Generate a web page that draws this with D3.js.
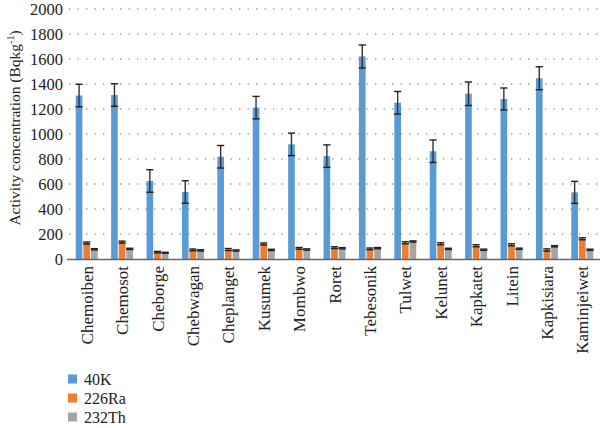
<!DOCTYPE html>
<meta charset="utf-8">
<style>
  body { margin: 0; background: #fff; }
  text { font-family: "Liberation Serif", serif; fill: #222; }
</style>
<svg width="600" height="428"></svg>
<script src="https://d3js.org/d3.v7.min.js"></script>
<script>
var sites = ["Chemoiben", "Chemosot", "Cheborge", "Chebwagan", "Cheplanget", "Kusumek", "Mombwo", "Roret",
  "Tebesonik", "Tulwet", "Kelunet", "Kapkatet", "Litein", "Kapkisiara", "Kaminjeiwet"];
var seriesNames = ["40K", "226Ra", "232Th"];
var k40 = [1308, 1312, 624, 536, 818, 1211, 917, 823, 1620, 1250, 862, 1322, 1280, 1446, 533];
var ra226 = [128, 135, 55, 73, 76, 120, 85, 91, 81, 130, 122, 106, 114, 72, 162];
var th232 = [78, 81, 50, 69, 68, 73, 76, 86, 87, 140, 81, 74, 82, 102, 74];
var k40Err = [90, 90, 90, 90, 90, 90, 90, 90, 92, 90, 90, 94, 88, 92, 88];
var ra226Err = [8, 8, 6, 7, 8, 8, 7, 7, 7, 8, 8, 8, 8, 9, 8];
var th232Err = [5, 5, 4, 5, 5, 5, 5, 5, 5, 5, 5, 5, 5, 5, 5];
var yTicks = [0, 200, 400, 600, 800, 1000, 1200, 1400, 1600, 1800, 2000];
var colors = ["#5b9bd5", "#ed7d31", "#a5a5a5"];

var values = [k40, ra226, th232];
var errs = [k40Err, ra226Err, th232Err];

var svg = d3.select("svg");

var x0 = d3.scaleBand().domain(sites).range([69, 600]);
var step = x0.bandwidth();
var x1 = d3.scaleBand().domain(seriesNames)
    .range([step * 0.19, step * 0.81]).paddingInner(0.13);
var y = d3.scaleLinear().domain([0, 2000]).range([259, 9]);

// dotted gridlines
svg.append("g").selectAll("line")
  .data(yTicks.slice(1))
  .join("line")
    .attr("x1", 69).attr("x2", 600)
    .attr("y1", d => y(d)).attr("y2", d => y(d))
    .attr("stroke", "#999")
    .attr("stroke-width", 1.3)
    .attr("stroke-dasharray", "1.3,7.2");

// y tick labels
svg.append("g").selectAll("text")
  .data(yTicks)
  .join("text")
    .attr("x", 63)
    .attr("y", d => y(d))
    .attr("dy", "0.35em")
    .attr("text-anchor", "end")
    .attr("font-size", 16.5)
    .text(d => d);

// y axis title
svg.append("text")
  .attr("transform", "translate(20,128) rotate(-90)")
  .attr("text-anchor", "middle")
  .attr("font-size", 15.5)
  .html("Activity concentration (Bqkg<tspan dy='-6' font-size='10'>-1</tspan><tspan dy='6'>)</tspan>");

// bars
var groups = svg.append("g").selectAll("g")
  .data(sites)
  .join("g")
    .attr("transform", d => "translate(" + x0(d) + ",0)");

groups.each(function(site, i) {
  var g = d3.select(this);
  seriesNames.forEach(function(s, j) {
    var v = values[j][i], e = errs[j][i];
    var bx = x1(s), bw = x1.bandwidth();
    g.append("rect")
      .attr("x", bx).attr("width", bw)
      .attr("y", y(v)).attr("height", y(0) - y(v))
      .attr("fill", colors[j]);
    var cx = bx + bw / 2;
    g.append("line")
      .attr("x1", cx).attr("x2", cx)
      .attr("y1", y(v + e)).attr("y2", y(v - e))
      .attr("stroke", "#333").attr("stroke-width", 1.4);
    [v + e, v - e].forEach(function(t) {
      g.append("line")
        .attr("x1", cx - 3.6).attr("x2", cx + 3.6)
        .attr("y1", y(t)).attr("y2", y(t))
        .attr("stroke", "#222").attr("stroke-width", 1.4);
    });
  });
});

// x axis line
svg.append("line")
  .attr("x1", 67).attr("x2", 600)
  .attr("y1", y(0) + 0.5).attr("y2", y(0) + 0.5)
  .attr("stroke", "#666").attr("stroke-width", 1.5);

// category labels
svg.append("g").selectAll("text")
  .data(sites)
  .join("text")
    .attr("transform", d => "translate(" + (x0(d) + step / 2 + 6) + ",266) rotate(-90)")
    .attr("text-anchor", "end")
    .attr("font-size", 17)
    .text(d => d);

// legend
var legend = svg.append("g").selectAll("g")
  .data(seriesNames)
  .join("g")
    .attr("transform", (d, i) => "translate(68," + (379 + i * 19) + ")");
legend.append("rect")
  .attr("x", 0).attr("y", -4.5).attr("width", 9).attr("height", 9)
  .attr("fill", (d, i) => colors[i]);
legend.append("text")
  .attr("x", 16).attr("dy", "0.35em")
  .attr("font-size", 16)
  .text(d => d);
</script>
